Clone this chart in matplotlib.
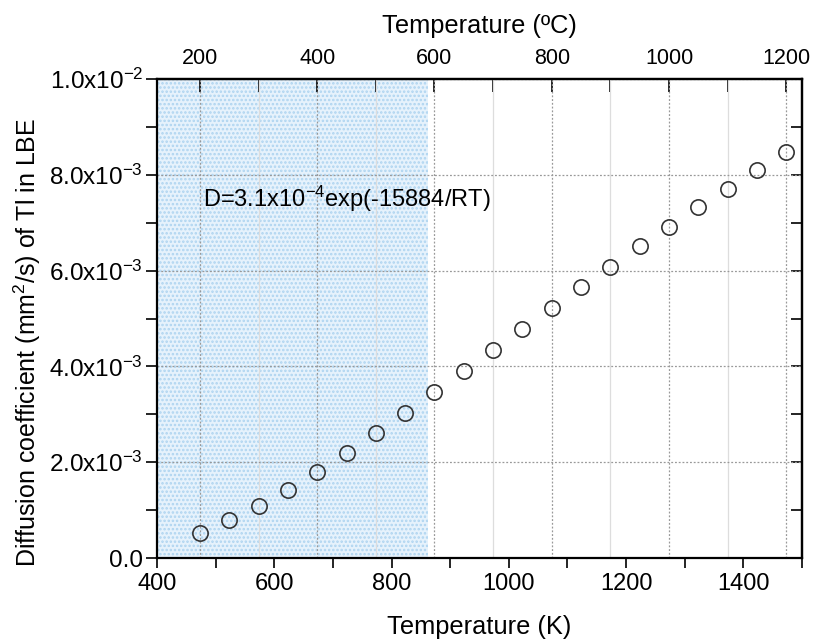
import numpy as np
import matplotlib
matplotlib.use("Agg")
import matplotlib.pyplot as plt
from matplotlib.ticker import MultipleLocator, FuncFormatter

plt.rcParams["font.family"] = ["Liberation Sans", "DejaVu Sans"]
plt.rcParams["mathtext.fontset"] = "custom"
plt.rcParams["mathtext.rm"] = "Liberation Sans"
plt.rcParams["mathtext.it"] = "Liberation Sans:italic"
plt.rcParams["hatch.linewidth"] = 1.2

# data
temp_c = [200, 250, 300, 350, 400, 450, 500, 550, 600, 650, 700,
          750, 800, 850, 900, 950, 1000, 1050, 1100, 1150, 1200]
diff_coef = [5.3e-4, 7.9e-4, 1.09e-3, 1.43e-3, 1.80e-3, 2.20e-3, 2.61e-3,
             3.03e-3, 3.47e-3, 3.91e-3, 4.34e-3, 4.79e-3, 5.22e-3, 5.66e-3,
             6.08e-3, 6.51e-3, 6.92e-3, 7.32e-3, 7.71e-3, 8.10e-3, 8.48e-3]
shade_range_k = [400, 862]
annotation = "D=3.1x10$^{-4}$exp(-15884/RT)"

temp_k = np.array(temp_c) + 273.15

fig = plt.figure(figsize=(8.14, 6.42), dpi=100)
ax = fig.add_axes([0.1929, 0.1308, 0.7924, 0.7461])

# light blue dotted region
ax.axvspan(shade_range_k[0], shade_range_k[1], facecolor="#e6f2fc",
           edgecolor="#aed4f0", hatch="....", linewidth=0, zorder=0)

ax.plot(temp_k, diff_coef, linestyle="none", marker="o", markersize=11,
        markerfacecolor="none", markeredgecolor="#333333", markeredgewidth=1.2, zorder=3)

ax.set_xlim(400, 1500)
ax.set_ylim(0, 1.0e-2)
ax.xaxis.set_major_locator(MultipleLocator(200))
ax.xaxis.set_minor_locator(MultipleLocator(100))
ax.yaxis.set_major_locator(MultipleLocator(2e-3))
ax.yaxis.set_minor_locator(MultipleLocator(1e-3))


def sci_fmt(v, pos):
    if abs(v) < 1e-12:
        return "0.0"
    exp = int(np.floor(np.log10(abs(v)) + 1e-9))
    mant = v / 10 ** exp
    return f"{mant:.1f}x10$^{{{exp}}}$"


ax.yaxis.set_major_formatter(FuncFormatter(sci_fmt))

ax.tick_params(axis="x", which="both", direction="out", top=False, length=7, width=1.2,
               labelsize=17, pad=4)
ax.tick_params(axis="y", which="both", direction="out", left=True, right=False,
               length=8, width=1.2, labelsize=17.5, pad=2)

# horizontal grid at major y ticks
ax.yaxis.grid(True, which="major", linestyle=(0, (1.5, 1.5)), color="#999999", linewidth=0.9)

# top axis in Celsius
top = ax.secondary_xaxis("top", functions=(lambda k: k - 273.15, lambda c: c + 273.15))
top.xaxis.set_major_locator(MultipleLocator(200))
top.xaxis.set_minor_locator(MultipleLocator(100))
top.tick_params(which="both", direction="in", length=9, width=1.2, labelsize=15.5, pad=7)
top.set_xlabel("Temperature (ºC)", fontsize=18.3, labelpad=11)

# vertical grid following Celsius ticks
for c in range(200, 1201, 100):
    k = c + 273.15
    if c % 200 == 0:
        ax.axvline(k, linestyle=(0, (1.5, 1.5)), color="#999999", linewidth=0.9, zorder=1)
    else:
        ax.axvline(k, linestyle="-", color="#dddddd", linewidth=0.9, zorder=1)

# right axis ticks pointing inward
right = ax.secondary_yaxis("right")
right.yaxis.set_major_locator(MultipleLocator(1e-3))
right.tick_params(direction="in", length=8, width=1.2, labelright=False)

for sp in ax.spines.values():
    sp.set_linewidth(1.6)
right.spines["right"].set_linewidth(1.6)
top.spines["top"].set_linewidth(1.6)

ax.set_xlabel("Temperature (K)", fontsize=18.3, labelpad=14)
ax.set_ylabel("Diffusion coefficient (mm$^2$/s) of Tl in LBE", fontsize=18)
ax.yaxis.set_label_coords(-0.177, 0.451)

ax.text(478, 7.5e-3, annotation, fontsize=17, va="center", ha="left")

fig.savefig("out.png", dpi=100)
